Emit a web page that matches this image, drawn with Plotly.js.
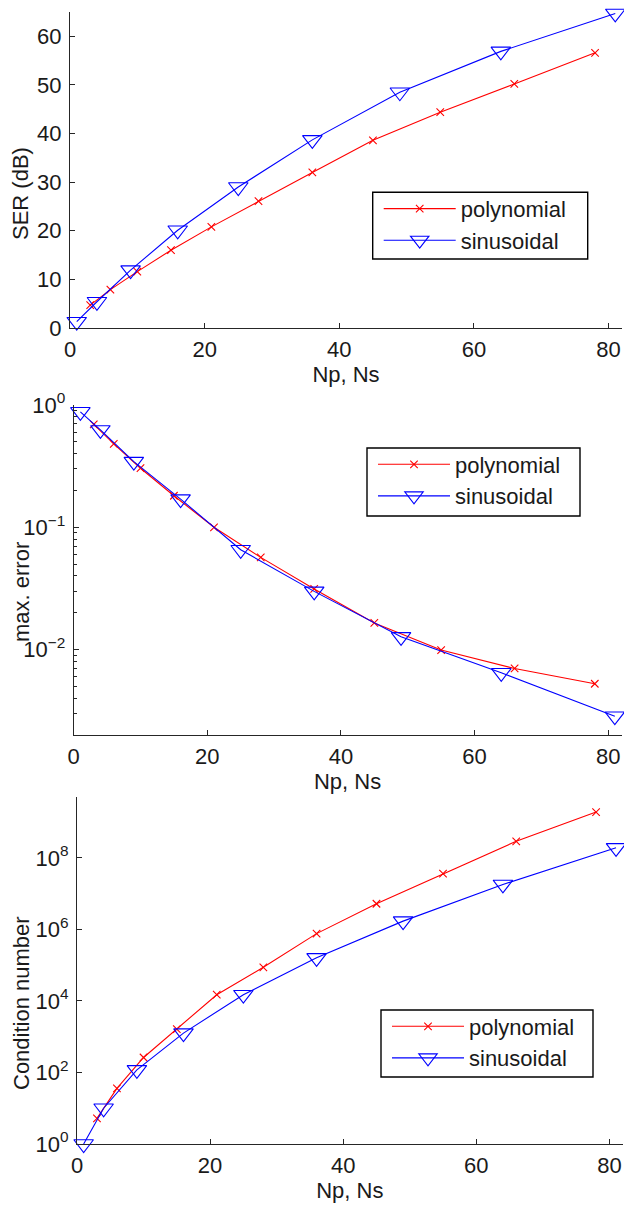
<!DOCTYPE html>
<html>
<head>
<meta charset="utf-8">
<script src="https://cdn.plot.ly/plotly-3.0.1.min.js"></script>
<style>html,body{margin:0;padding:0;background:#fff;}#chart{width:624px;height:1205px;}</style>
</head>
<body>
<div id="chart"></div>
<script>
// ---- data ----
const xPoly = [3, 6, 10, 15, 21, 28, 36, 45, 55, 66, 78];
const xSin = [1, 4, 9, 16, 25, 36, 49, 64, 81];

const serPoly = [4.7, 7.9, 11.6, 16.0, 20.8, 26.1, 32.0, 38.6, 44.4, 50.2, 56.6];
const serSin = [1.3, 5.4, 11.9, 20.1, 29.0, 38.7, 48.5, 56.9, 64.7];

const errPoly = [0.695, 0.48, 0.304, 0.181, 0.1, 0.0567, 0.0313, 0.0165, 0.0099, 0.0070, 0.00525];
const errSin = [0.88, 0.625, 0.344, 0.17, 0.0655, 0.0299, 0.0127, 0.00645, 0.00285];

const condPoly = [5.2, 36, 262, 1630, 14900, 87000, 7.6e5, 5.2e6, 3.6e7, 2.9e8, 1.9e9];
const condSin = [1, 10, 118, 1260, 14900, 1.6e5, 1.7e6, 1.8e7, 1.9e8];

const seriesNames = ["polynomial", "sinusoidal"];
const xTicks = [0, 20, 40, 60, 80];
const xTickText = ["0", "20", "40", "60", "80"];
const serTicks = [0, 10, 20, 30, 40, 50, 60];
const errTicks = [1, 0.1, 0.01];
const errTickText = ["10<sup>0</sup>", "10<sup>\u22121</sup>", "10<sup>\u22122</sup>"];
const condTicks = [1, 1e2, 1e4, 1e6, 1e8];
const condTickText = ["10<sup>0</sup>", "10<sup>2</sup>", "10<sup>4</sup>", "10<sup>6</sup>", "10<sup>8</sup>"];
const xTitle = "Np, Ns";
const yTitles = ["SER (dB)", "max. error", "Condition number"];

// ---- styling ----
const W = 624, H = 1205;
const FONT = "Liberation Sans, Arial, Helvetica, sans-serif";
const TXT = "#1a1a1a";
const AX = "#262626";
const FS = 22;
const RED = "#ff0000", BLUE = "#0000ff";

function px(x) { return x / W; }
function py(y) { return 1 - y / H; }

function polyTrace(x, y, xa, ya, lg) {
  return {
    x: x, y: y, xaxis: xa, yaxis: ya, legend: lg, name: seriesNames[0],
    type: "scatter", mode: "lines+markers", cliponaxis: false,
    line: {color: RED, width: 1.1},
    marker: {symbol: "x-thin-open", size: 7.5, color: RED, line: {color: RED, width: 1.1}}
  };
}
function sinTrace(x, y, xa, ya, lg) {
  return {
    x: x, y: y, xaxis: xa, yaxis: ya, legend: lg, name: seriesNames[1],
    type: "scatter", mode: "lines+markers", cliponaxis: false,
    line: {color: BLUE, width: 1.1},
    marker: {symbol: "triangle-down-open", size: 17, color: BLUE, line: {color: BLUE, width: 1.1}}
  };
}

const data = [
  polyTrace(xPoly, serPoly, "x", "y", "legend"),
  sinTrace(xSin, serSin, "x", "y", "legend"),
  polyTrace(xPoly, errPoly, "x2", "y2", "legend2"),
  sinTrace(xSin, errSin, "x2", "y2", "legend2"),
  polyTrace(xPoly, condPoly, "x3", "y3", "legend3"),
  sinTrace(xSin, condSin, "x3", "y3", "legend3")
];

// minor tick positions for the log error axis (2..9 of each decade)
const minorErr = [];
[0.001, 0.01, 0.1].forEach(function (d) {
  for (let k = 2; k <= 9; k++) minorErr.push(d * k);
});

function xAxis(dom, anchor) {
  return {
    domain: dom, anchor: anchor, range: [0, 82],
    tickmode: "array", tickvals: xTicks, ticktext: xTickText,
    ticks: "inside", ticklen: 5, tickwidth: 1, tickcolor: AX,
    showline: true, linecolor: AX, linewidth: 1, mirror: false,
    showgrid: false, zeroline: false, ticklabelstandoff: 2,
    tickfont: {family: FONT, size: FS, color: TXT},
    title: {text: xTitle, font: {family: FONT, size: FS, color: TXT}, standoff: 1}
  };
}
function yBase(dom, anchor) {
  return {
    domain: dom, anchor: anchor,
    ticks: "inside", ticklen: 5, tickwidth: 1, tickcolor: AX,
    showline: true, linecolor: AX, linewidth: 1, mirror: false,
    showgrid: false, zeroline: false, ticklabelstandoff: 3,
    tickfont: {family: FONT, size: FS, color: TXT}
  };
}

const y1 = yBase([py(328), py(12)], "x");
y1.range = [0, 65]; y1.tickmode = "array"; y1.tickvals = serTicks;

const y2 = yBase([py(735), py(405)], "x2");
y2.type = "log"; y2.range = [Math.log10(0.002), 0];
y2.tickmode = "array"; y2.tickvals = errTicks; y2.ticktext = errTickText;
y2.minor = {tickmode: "array", tickvals: minorErr, ticks: "inside", ticklen: 3, tickwidth: 1, tickcolor: AX};

const y3 = yBase([py(1144), py(797)], "x3");
y3.type = "log"; y3.range = [0, 9.7];
y3.tickmode = "array"; y3.tickvals = condTicks; y3.ticktext = condTickText;

// legend boxes (pixel rectangles) and the transparent legends placed inside
const boxes = [
  {l: 372.7, r: 587.7, t: 192.3, b: 259},
  {l: 367, r: 580, t: 448, b: 516},
  {l: 381, r: 593, t: 1010, b: 1077}
];

function legendIn(b) {
  return {
    x: px(b.l + 6), y: py(b.t - 4.5), xanchor: "left", yanchor: "top",
    bgcolor: "rgba(0,0,0,0)", borderwidth: 0,
    font: {family: FONT, size: FS, color: TXT}, itemwidth: 72, tracegroupgap: 0
  };
}
function boxShape(b) {
  return {
    type: "rect", xref: "paper", yref: "paper", layer: "above",
    x0: px(b.l), x1: px(b.r), y0: py(b.b), y1: py(b.t),
    fillcolor: "#ffffff", line: {color: "#000000", width: 1.4}
  };
}

function yTitle(text, yc) {
  return {
    text: text, xref: "paper", yref: "paper", x: px(21), y: py(yc),
    xanchor: "center", yanchor: "middle", textangle: -90, showarrow: false,
    font: {family: FONT, size: FS, color: TXT}
  };
}

const layout = {
  width: W, height: H,
  margin: {l: 0, r: 0, t: 0, b: 0},
  paper_bgcolor: "#ffffff", plot_bgcolor: "#ffffff",
  font: {family: FONT, size: FS, color: TXT},
  showlegend: true,
  xaxis: xAxis([px(70), px(622)], "y"),
  yaxis: y1,
  xaxis2: xAxis([px(73.7), px(621.5)], "y2"),
  yaxis2: y2,
  xaxis3: xAxis([px(77), px(622.7)], "y3"),
  yaxis3: y3,
  legend: legendIn(boxes[0]),
  legend2: legendIn(boxes[1]),
  legend3: legendIn(boxes[2]),
  shapes: boxes.map(boxShape),
  annotations: [
    yTitle(yTitles[0], 194),
    yTitle(yTitles[1], 592),
    yTitle(yTitles[2], 1003)
  ]
};

Plotly.newPlot("chart", data, layout, {displayModeBar: false, staticPlot: true});
</script>
</body>
</html>
